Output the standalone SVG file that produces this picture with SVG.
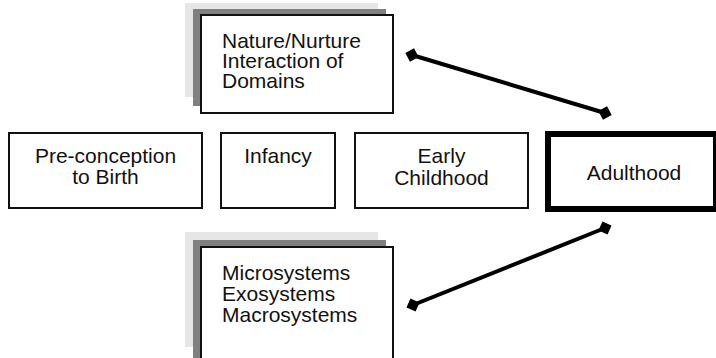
<svg xmlns="http://www.w3.org/2000/svg" width="716" height="358" viewBox="0 0 716 358">
  <defs>
    <style>
      .box { fill: #ffffff; stroke: #111111; stroke-width: 2; }
      .thick { fill: #ffffff; stroke: #000000; stroke-width: 6; }
      .shadow-light { fill: #e6e6e6; }
      .shadow-dark { fill: #808080; }
      .label { font-family: "Liberation Sans", Arial, sans-serif; font-size: 21px; fill: #111111; }
      .mid { text-anchor: middle; }
      .link { stroke: #000000; stroke-width: 4; fill: none; marker-start: url(#dia); marker-end: url(#dia); }
    </style>
    <marker id="dia" viewBox="0 0 12 12" refX="6" refY="6" markerWidth="14" markerHeight="14" markerUnits="userSpaceOnUse" orient="auto">
      <path d="M0,6 L6,0 L12,6 L6,12 Z" fill="#000000"/>
    </marker>
  </defs>

  <rect width="716" height="358" fill="#ffffff"/>

  <!-- stacked box: nature / nurture -->
  <g id="nature-nurture">
    <rect class="shadow-light" x="185" y="3" width="193" height="94"/>
    <rect class="shadow-dark" x="193" y="9" width="193" height="97"/>
    <rect class="box" x="201" y="15" width="192" height="98"/>
    <text class="label" x="222" y="48">Nature/Nurture</text>
    <text class="label" x="222" y="68">Interaction of</text>
    <text class="label" x="222" y="88">Domains</text>
  </g>

  <!-- life stages row -->
  <g id="preconception">
    <rect class="box" x="9" y="133" width="193" height="75"/>
    <text class="label mid" x="105.5" y="163">Pre-conception</text>
    <text class="label mid" x="105.5" y="184">to Birth</text>
  </g>
  <g id="infancy">
    <rect class="box" x="221" y="133" width="114" height="75"/>
    <text class="label mid" x="278" y="163">Infancy</text>
  </g>
  <g id="early-childhood">
    <rect class="box" x="355" y="133" width="173" height="75"/>
    <text class="label mid" x="441.5" y="163">Early</text>
    <text class="label mid" x="441.5" y="185">Childhood</text>
  </g>
  <g id="adulthood">
    <rect class="thick" x="548" y="134" width="168" height="75"/>
    <text class="label mid" x="634" y="180">Adulthood</text>
  </g>

  <!-- stacked box: ecological systems -->
  <g id="systems">
    <rect class="shadow-light" x="185" y="232" width="193" height="115"/>
    <rect class="shadow-dark" x="193" y="240" width="193" height="130"/>
    <rect class="box" x="201" y="247" width="192" height="130"/>
    <text class="label" x="222" y="280">Microsystems</text>
    <text class="label" x="222" y="301">Exosystems</text>
    <text class="label" x="222" y="322">Macrosystems</text>
  </g>

  <!-- connectors -->
  <g id="connectors">
    <line class="link" x1="412" y1="55" x2="605" y2="113"/>
    <line class="link" x1="413" y1="305" x2="605" y2="228"/>
  </g>
</svg>
